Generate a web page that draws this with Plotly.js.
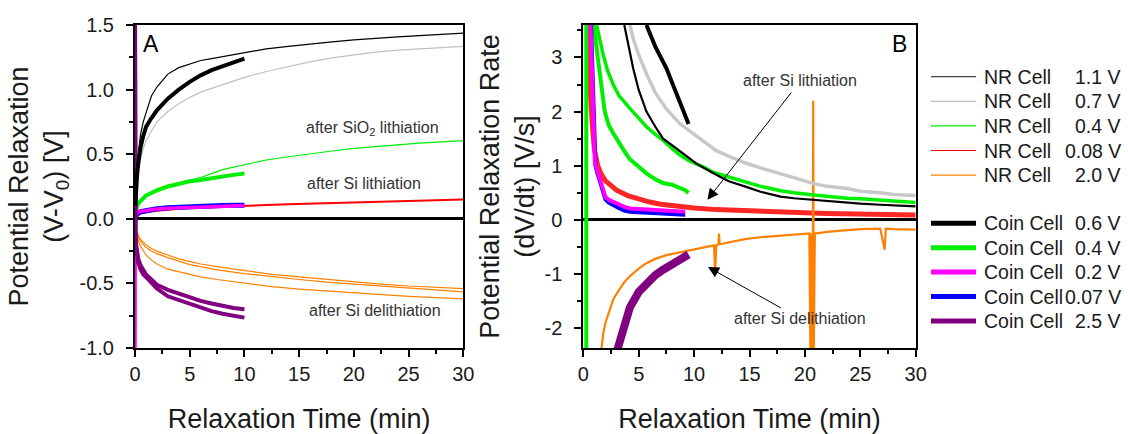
<!DOCTYPE html>
<html><head><meta charset="utf-8">
<script src="https://cdn.plot.ly/plotly-3.0.1.min.js"></script>
<style>html,body{margin:0;padding:0;background:#fff;}#chart{width:1128px;height:434px;}</style>
</head><body><div id="chart"></div>
<script>
// ---------- Panel A : potential relaxation (V) vs time (min) ----------
const tA_nr = [0.05,0.1,0.2,0.3,0.5,0.75,1,1.5,2,3,4,5,6,7,8,9,10,12,14,16,18,20,22,24,26,28,30];
const vA_nr11 = [0.2,0.3,0.42,0.5,0.65,0.75,0.82,0.95,1.02,1.12,1.17,1.2,1.225,1.24,1.255,1.27,1.285,1.315,1.335,1.355,1.37,1.385,1.398,1.408,1.418,1.428,1.437];
const vA_nr07 = [0.15,0.22,0.3,0.37,0.46,0.54,0.6,0.68,0.75,0.83,0.89,0.94,0.98,1.01,1.04,1.07,1.095,1.14,1.18,1.215,1.245,1.27,1.29,1.305,1.315,1.325,1.335];
const vA_nr04 = [0.04,0.06,0.09,0.11,0.14,0.16,0.18,0.21,0.23,0.26,0.28,0.3,0.32,0.35,0.38,0.4,0.42,0.455,0.48,0.505,0.525,0.545,0.56,0.575,0.585,0.595,0.605];
const vA_nr008 = [0.01,0.015,0.02,0.03,0.04,0.045,0.05,0.057,0.063,0.072,0.078,0.083,0.087,0.091,0.095,0.098,0.101,0.107,0.112,0.117,0.122,0.127,0.132,0.137,0.142,0.146,0.15];
const tA_or = [0.2,0.3,0.5,0.75,1,1.5,2,3,4,5,6,7.5,10,12.5,15,17.5,20,22.5,25,27.5,30];
const vA_nr20a = [-0.1,-0.13,-0.16,-0.18,-0.2,-0.23,-0.25,-0.28,-0.31,-0.33,-0.35,-0.37,-0.40,-0.43,-0.45,-0.47,-0.49,-0.505,-0.52,-0.53,-0.54];
const vA_nr20b = [-0.11,-0.14,-0.175,-0.2,-0.22,-0.25,-0.27,-0.30,-0.33,-0.355,-0.37,-0.395,-0.425,-0.45,-0.47,-0.49,-0.505,-0.525,-0.54,-0.553,-0.565];
const vA_nr20c = [-0.13,-0.17,-0.21,-0.25,-0.28,-0.32,-0.35,-0.39,-0.41,-0.43,-0.45,-0.47,-0.50,-0.525,-0.545,-0.56,-0.575,-0.59,-0.60,-0.61,-0.62];
const tA_c = [0.02,0.1,0.2,0.3,0.5,0.75,1,1.5,2,3,4,5,6,7,8,9,10];
const vA_c06 = [0.1,0.25,0.35,0.43,0.55,0.64,0.71,0.78,0.84,0.93,1.0,1.06,1.11,1.15,1.18,1.21,1.24];
const vA_c04 = [0.04,0.08,0.1,0.12,0.14,0.16,0.18,0.2,0.22,0.25,0.27,0.29,0.3,0.315,0.33,0.34,0.35];
const vA_c007 = [0.02,0.03,0.04,0.045,0.055,0.06,0.065,0.072,0.078,0.085,0.09,0.095,0.098,0.1,0.102,0.104,0.105];
const tA_c02 = [0,0,0.02,0.1,0.2,0.3,0.5,0.75,1,1.5,2,3,4,5,6,7,8,9,10];
const vA_c02 = [-1.1,0.0,0.02,0.035,0.045,0.05,0.058,0.062,0.066,0.072,0.076,0.082,0.086,0.09,0.093,0.096,0.098,0.1,0.102];
const tA_c25 = [0,0,0.05,0.1,0.2,0.3,0.5,0.75,1,1.5,2,3,4,5,6,7,8,9,10];
const vA_c25a = [1.6,0,-0.1,-0.2,-0.27,-0.31,-0.36,-0.4,-0.43,-0.47,-0.51,-0.55,-0.58,-0.61,-0.635,-0.655,-0.675,-0.69,-0.70];
const vA_c25b = [1.6,0,-0.1,-0.22,-0.3,-0.34,-0.39,-0.43,-0.45,-0.49,-0.54,-0.6,-0.63,-0.66,-0.69,-0.715,-0.735,-0.75,-0.765];

// ---------- Panel B : relaxation rate dV/dt vs time (min) ----------
const tB_nr07 = [4.2,4.5,5,5.7,6.5,7.5,8.7,10,11,12,13.2,14.5,16,17.8,19,20.8,22,23.8,25,26.8,28,30];
const vB_nr07 = [3.6,3.35,3.05,2.7,2.35,2.05,1.78,1.58,1.42,1.28,1.17,1.06,0.96,0.86,0.78,0.67,0.62,0.58,0.53,0.5,0.47,0.45];
const tB_nr11 = [3.7,4.0,4.5,5.0,5.7,6.5,7.2,8.0,8.7,9.5,10.2,11,11.7,12.5,13.2,14,14.7,16,17.8,19,20.8,22,23.8,25,26.8,28,30];
const vB_nr11 = [3.6,3.3,2.8,2.4,2.0,1.72,1.5,1.38,1.28,1.15,1.04,0.95,0.86,0.78,0.71,0.65,0.61,0.52,0.43,0.4,0.37,0.34,0.31,0.3,0.28,0.27,0.25];
const tB_nr04 = [1.2,1.5,1.8,2.2,2.7,3.2,3.7,4.2,5,5.7,6.5,7.2,8,8.7,9.5,10.2,11,11.7,12.5,13.2,14.7,16,17.8,19,20.8,22,23.8,25,26.8,28,30];
const vB_nr04 = [3.6,3.3,3.05,2.75,2.5,2.3,2.17,2.06,1.88,1.72,1.58,1.47,1.32,1.2,1.1,1.04,0.96,0.88,0.83,0.78,0.69,0.62,0.54,0.5,0.46,0.43,0.4,0.39,0.37,0.35,0.32];
const tB_nr008 = [0.5,0.6,0.8,1.0,1.3,1.6,2,2.5,3,4,5,6,7,8,9,10,12,14,16,18,20,22,24,26,28,30];
const vB_nr008 = [3.7,2.5,1.8,1.3,1.0,0.85,0.72,0.62,0.55,0.45,0.38,0.33,0.29,0.26,0.24,0.22,0.19,0.17,0.15,0.14,0.13,0.12,0.11,0.1,0.1,0.09];
const tB_nr20 = [1.6,1.8,2.0,2.3,2.7,3.2,3.7,4.2,5,5.7,6.5,7.5,8.7,10,11,11.8,11.9,12.0,12.2,12.25,12.3,13,14.7,16,17.8,19,20.4,20.5,20.6,20.7,20.75,20.8,20.9,21.1,22,23.8,25,26.8,27.2,27.3,28,30];
const vB_nr20 = [-2.45,-2.1,-1.9,-1.7,-1.47,-1.3,-1.15,-1.04,-0.9,-0.8,-0.72,-0.65,-0.6,-0.55,-0.5,-0.47,-0.98,-0.47,-0.45,-0.25,-0.45,-0.42,-0.35,-0.32,-0.29,-0.27,-0.25,-2.45,-0.25,-2.45,2.2,-2.45,-0.25,-0.25,-0.22,-0.19,-0.17,-0.16,-0.55,-0.16,-0.17,-0.18];
const tB_c06 = [5.7,6.5,7.5,8.5,9.5];
const vB_c06 = [3.6,3.2,2.8,2.3,1.77];
const tB_c04 = [0.27,0.27,0.95,1.1,1.3,1.5,1.7,1.9,2.0,2.3,2.7,3.2,3.7,4.2,5,5.7,6.5,7.2,8,8.7,9.2,9.5];
const vB_c04 = [-2.5,3.7,3.6,3.3,3.0,2.7,2.3,2.05,1.95,1.75,1.6,1.42,1.27,1.12,0.97,0.86,0.75,0.68,0.65,0.6,0.55,0.5];
const tB_c02 = [0.65,0.75,0.85,0.95,1.05,1.2,1.5,1.8,2.0,2.3,2.7,3.2,3.7,4.2,5,5.7,7,8,9.2];
const vB_c02 = [3.6,2.8,2.0,1.4,1.05,0.95,0.75,0.55,0.42,0.37,0.33,0.28,0.24,0.21,0.2,0.19,0.17,0.15,0.15];
const tB_c007 = [0.7,0.8,0.9,1.0,1.1,1.25,1.5,1.8,2.0,2.3,2.7,3.2,3.7,4.2,5,5.7,7,8,9.2];
const vB_c007 = [3.6,2.8,2.0,1.4,1.0,0.88,0.7,0.5,0.38,0.32,0.27,0.22,0.17,0.15,0.14,0.13,0.115,0.105,0.095];
const tB_c25 = [3.0,3.5,4.2,5,5.7,6.5,7.2,8,8.7,9.2,9.5];
const vB_c25 = [-2.45,-2.05,-1.62,-1.33,-1.17,-1.02,-0.92,-0.83,-0.75,-0.69,-0.64];

// ---------- axes ticks ----------
const xTickVals = [0,5,10,15,20,25,30];
const xTickText = ['0','5','10','15','20','25','30'];
const yATickVals = [-1,-0.5,0,0.5,1,1.5];
const yATickText = ['-1.0','-0.5','0.0','0.5','1.0','1.5'];
const yBTickVals = [-2,-1,0,1,2,3];
const yBTickText = ['-2','-1','0','1','2','3'];

// ---------- legend ----------
const legNames = ['NR Cell','NR Cell','NR Cell','NR Cell','NR Cell','Coin Cell','Coin Cell','Coin Cell','Coin Cell','Coin Cell'];
const legVolts = ['1.1 V','0.7 V','0.4 V','0.08 V','2.0 V','0.6 V','0.4 V','0.2 V','0.07 V','2.5 V'];
const legColors = ['#444444','#c0c0c0','#00ee00','#ff0000','#ff8000','#000000','#00ee00','#ff00ff','#0000ff','#800080'];

const FONT = 'Liberation Sans, Arial, sans-serif';
const W = 1128, H = 434;
const dom = (a, b) => [a / W, b / W];
const domY = (top, bottom) => [1 - bottom / H, 1 - top / H];

function tr(x, y, color, width, ax, opacity) {
  return {x: x, y: y, type: 'scatter', mode: 'lines', line: {color: color, width: width},
    opacity: opacity || 1, xaxis: ax === 2 ? 'x2' : 'x', yaxis: ax === 2 ? 'y2' : 'y',
    showlegend: false, hoverinfo: 'skip'};
}

const data = [
  // Panel A
  tr(tA_or, vA_nr20a, '#ff8000', 1.2, 1),
  tr(tA_or, vA_nr20b, '#ff8000', 1.2, 1),
  tr(tA_or, vA_nr20c, '#ff8000', 1.2, 1),
  tr(tA_nr, vA_nr008, '#ff0000', 2, 1),
  tr(tA_nr, vA_nr04, '#00ee00', 1.2, 1),
  tr(tA_nr, vA_nr07, '#c0c0c0', 1.2, 1),
  tr(tA_nr, vA_nr11, '#000000', 1.2, 1),
  tr(tA_c, vA_c04, '#00ee00', 4, 1),
  tr(tA_c, vA_c007, '#0000ff', 5, 1),
  tr(tA_c02, vA_c02, '#ff00ff', 3.5, 1),
  tr(tA_c25, vA_c25a, '#800080', 4, 1),
  tr(tA_c25, vA_c25b, '#800080', 4, 1),
  tr(tA_c, vA_c06, '#000000', 4, 1),
  // Panel B
  tr(tB_nr008, vB_nr008, '#ff0000', 5, 2, 0.85),
  tr(tB_nr20, vB_nr20, '#ff8000', 2.2, 2),
  tr(tB_nr07, vB_nr07, '#c8c8c8', 3.5, 2),
  tr(tB_nr04, vB_nr04, '#00ee00', 3.5, 2),
  tr(tB_nr11, vB_nr11, '#000000', 2.2, 2),
  tr(tB_c04, vB_c04, '#00ee00', 4, 2),
  tr(tB_c007, vB_c007, '#0000ff', 4, 2),
  tr(tB_c02, vB_c02, '#ff00ff', 4, 2),
  tr(tB_c25, vB_c25, '#800080', 8, 2),
  tr(tB_c06, vB_c06, '#000000', 4, 2)
];

const tickFont = {family: FONT, size: 20, color: '#1a1a1a'};
const titleFont = {family: FONT, size: 27, color: '#1a1a1a'};
function xAxis(domain, anchor) {
  return {domain: domain, anchor: anchor, range: [0, 30], showline: true, linecolor: '#000', linewidth: 2,
    mirror: true, ticks: 'outside', ticklen: 7, tickwidth: 2, tickcolor: '#000', showgrid: false, zeroline: false,
    tickmode: 'array', tickvals: xTickVals, ticktext: xTickText, tickfont: tickFont, ticklabelstandoff: 0,
    minor: {tickmode: 'linear', tick0: 0, dtick: 2.5, ticks: 'outside', ticklen: 4, tickwidth: 2, tickcolor: '#000', showgrid: false},
    title: {text: 'Relaxation Time (min)', font: titleFont, standoff: 29}, fixedrange: true};
}
function yAxis(domain, anchor, range, vals, text, minorD, title, so) {
  return {domain: domain, anchor: anchor, range: range, showline: true, linecolor: '#000', linewidth: 2,
    mirror: true, ticks: 'outside', ticklen: 7, tickwidth: 2, tickcolor: '#000', showgrid: false,
    zeroline: true, zerolinecolor: '#000', zerolinewidth: 3,
    tickmode: 'array', tickvals: vals, ticktext: text, tickfont: tickFont, ticklabelstandoff: 8,
    minor: {tickmode: 'linear', tick0: 0, dtick: minorD, ticks: 'outside', ticklen: 4, tickwidth: 2, tickcolor: '#000', showgrid: false},
    title: {text: title, font: titleFont, standoff: so}, fixedrange: true};
}

const annFont = {family: FONT, size: 16, color: '#333333'};
const annotations = [
  {xref: 'x', yref: 'y', x: 1.5, y: 1.35, text: 'A', showarrow: false, font: {family: FONT, size: 23, color: '#000'}},
  {xref: 'x2', yref: 'y2', x: 28.5, y: 3.25, text: 'B', showarrow: false, font: {family: FONT, size: 23, color: '#000'}},
  {xref: 'x', yref: 'y', x: 21.7, y: 0.70, text: 'after SiO<sub>2</sub> lithiation', showarrow: false, font: annFont},
  {xref: 'x', yref: 'y', x: 20.9, y: 0.27, text: 'after Si lithiation', showarrow: false, font: annFont},
  {xref: 'x', yref: 'y', x: 21.9, y: -0.71, text: 'after Si delithiation', showarrow: false, font: annFont},
  // Panel B labels with arrows (text sits at the arrow tail)
  {xref: 'x2', yref: 'y2', x: 11.2, y: 0.37, axref: 'x2', ayref: 'y2', ax: 19.6, ay: 2.57,
   text: 'after Si lithiation', font: annFont, showarrow: true, arrowhead: 2, arrowsize: 2.2, arrowwidth: 1,
   arrowcolor: '#000', standoff: 0, startstandoff: 2},
  {xref: 'x2', yref: 'y2', x: 11.26, y: -0.87, axref: 'x2', ayref: 'y2', ax: 19.6, ay: -1.83,
   text: 'after Si delithiation', font: annFont, showarrow: true, arrowhead: 2, arrowsize: 2.2, arrowwidth: 1,
   arrowcolor: '#000', standoff: 0, startstandoff: 2}
];
const shapes = [];
const legFont = {family: FONT, size: 19.5, color: '#1a1a1a'};
for (let i = 0; i < legNames.length; i++) {
  const yPix = i < 5 ? 76.7 + i * 24.6 : 223.3 + (i - 5) * 24.4;
  const yP = 1 - yPix / H;
  shapes.push({type: 'line', xref: 'paper', yref: 'paper', x0: 931 / W, x1: 976 / W, y0: yP, y1: yP,
    line: {color: legColors[i], width: i < 5 ? 1.2 : 5}});
  annotations.push({xref: 'paper', yref: 'paper', x: 982 / W, y: yP, xanchor: 'left', yanchor: 'middle',
    text: legNames[i], showarrow: false, font: legFont});
  annotations.push({xref: 'paper', yref: 'paper', x: 1123 / W, y: yP, xanchor: 'right', yanchor: 'middle',
    text: legVolts[i], showarrow: false, font: legFont});
}

const layout = {
  width: W, height: H, margin: {l: 0, r: 0, t: 0, b: 0},
  paper_bgcolor: '#fff', plot_bgcolor: '#fff', showlegend: false,
  font: {family: FONT},
  xaxis: xAxis(dom(135, 463.3), 'y'),
  yaxis: yAxis(domY(25, 348), 'x', [-1, 1.5], yATickVals, yATickText, 0.25, 'Potential Relaxation<br>(V-V<sub>0</sub>) [V]', 8),
  xaxis2: xAxis(dom(583.3, 915.7), 'y2'),
  yaxis2: yAxis(domY(25, 348), 'x2', [-2.366, 3.6], yBTickVals, yBTickText, 0.5, 'Potential Relaxation Rate<br>(dV/dt) [V/s]', 2),
  annotations: annotations, shapes: shapes
};
Plotly.newPlot('chart', data, layout, {displayModeBar: false, staticPlot: true});
</script></body></html>
